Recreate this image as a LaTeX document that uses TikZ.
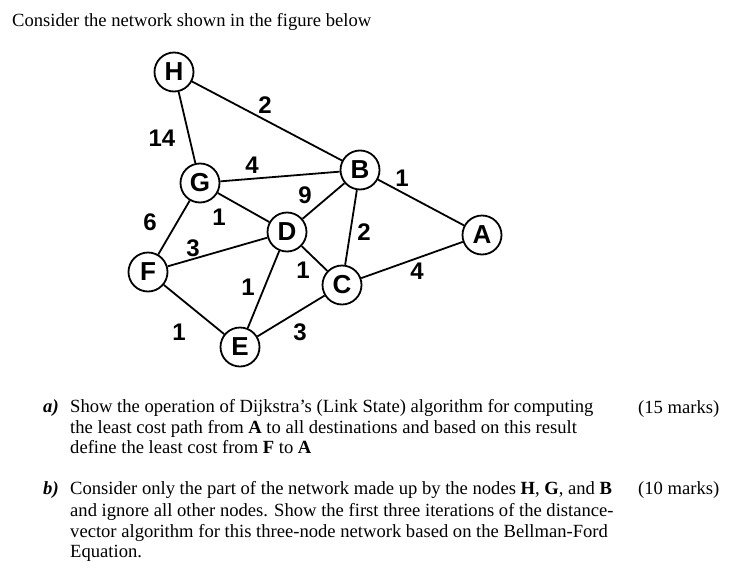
\documentclass[tikz,border=0pt]{standalone}
\usepackage{fontspec}
\setmainfont{Liberation Serif}
\newfontfamily\arialfont{Liberation Sans}
\usetikzlibrary{positioning}

\begin{document}
\begin{tikzpicture}[x=1pt,y=-1pt,
    router/.style={draw, circle, line width=1.8pt, minimum size=39pt, inner sep=0pt,
        font=\arialfont\bfseries\fontsize{26}{26}\selectfont},
    link/.style={line width=1.8pt},
    cost/.style={inner sep=0pt, font=\arialfont\bfseries\fontsize{24}{24}\selectfont},
    txt/.style={anchor=base west, inner sep=0pt, font=\fontsize{18.6}{20}\selectfont}]
    \useasboundingbox (0,0) rectangle (746,570);

    % the network
    \node[router] (H) at (174,72) {H};
    \node[router] (G) at (200,183) {G};
    \node[router] (B) at (360,170) {B};
    \node[router] (A) at (482,235) {A};
    \node[router] (D) at (287,232) {D};
    \node[router] (C) at (342,285) {C};
    \node[router] (F) at (148,272) {F};
    \node[router] (E) at (240,347) {E};

    \draw[link] (H) -- (B);
    \draw[link] (H) -- (G);
    \draw[link] (G) -- (B);
    \draw[link] (G) -- (D);
    \draw[link] (G) -- (F);
    \draw[link] (B) -- (D);
    \draw[link] (B) -- (A);
    \draw[link] (B) -- (C);
    \draw[link] (D) -- (F);
    \draw[link] (D) -- (C);
    \draw[link] (D) -- (E);
    \draw[link] (C) -- (A);
    \draw[link] (F) -- (E);
    \draw[link] (E) -- (C);

    % link costs
    \node[cost] (cHB) at (265,105) {2};
    \node[cost] (cHG) at (162,138) {14};
    \node[cost] (cGB) at (252,165) {4};
    \node[cost] (cBA) at (402,178) {1};
    \node[cost] (cBD) at (305,195) {9};
    \node[cost] (cGD) at (219,217) {1};
    \node[cost] (cGF) at (150,222) {6};
    \node[cost] (cBC) at (364,232) {2};
    \node[cost] (cFD) at (193,248) {3};
    \node[cost] (cDC) at (303,270) {1};
    \node[cost] (cCA) at (417,271) {4};
    \node[cost] (cDE) at (248,287) {1};
    \node[cost] (cFE) at (179,332) {1};
    \node[cost] (cEC) at (300,332) {3};

    % question text
    \node[txt] (title) at (12,26) {Consider the network shown in the figure below};

    \node[txt] (qa) at (43,412) {\textbf{\textit{a)}}};
    \node[txt] (qa1) at (70,412) {Show the operation of Dijkstra’s (Link State) algorithm for computing};
    \node[txt] (qa2) at (70,433) {the least cost path from \textbf{A} to all destinations and based on this result};
    \node[txt] (qa3) at (70,453) {define the least cost from \textbf{F} to \textbf{A}};
    \node[txt] (ma) at (638,413) {(15 marks)};

    \node[txt] (qb) at (43,494) {\textbf{\textit{b)}}};
    \node[txt] (qb1) at (70,494) {Consider only the part of the network made up by the nodes \textbf{H}, \textbf{G}, and \textbf{B}};
    \node[txt] (qb2) at (70,516) {and ignore all other nodes. Show the first three iterations of the distance-};
    \node[txt] (qb3) at (70,537) {vector algorithm for this three-node network based on the Bellman-Ford};
    \node[txt] (qb4) at (70,557) {Equation.};
    \node[txt] (mb) at (638,494) {(10 marks)};
\end{tikzpicture}
\end{document}
